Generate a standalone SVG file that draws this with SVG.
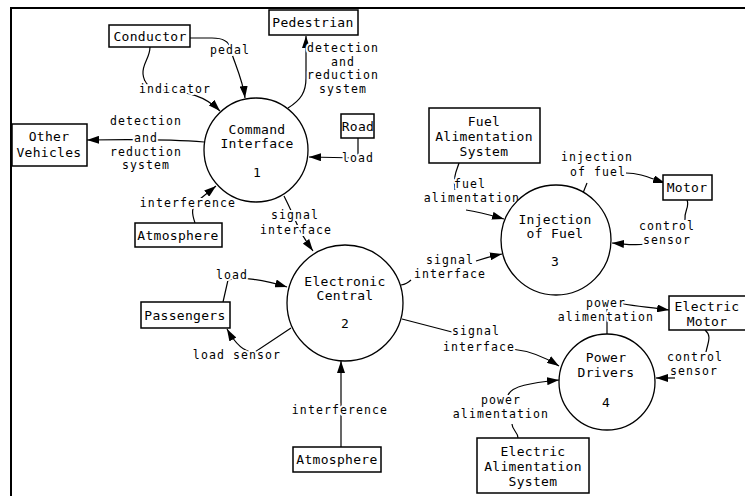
<svg xmlns="http://www.w3.org/2000/svg" width="745" height="496" viewBox="0 0 745 496">
<style>
text{font-family:"DejaVu Sans Mono","Liberation Mono",monospace;font-size:13px;fill:#000;text-anchor:middle;letter-spacing:0.3px}
.lbl{font-size:11.5px;letter-spacing:1.1px;paint-order:stroke;stroke:#fff;stroke-width:4px;stroke-linejoin:round}
.box{fill:#fff;stroke:#000;stroke-width:1.5}
.proc{fill:#fff;stroke:#000;stroke-width:1.3}
.c{fill:none;stroke:#000;stroke-width:1.2}
.a{marker-end:url(#ah)}
</style>
<defs>
<marker id="ah" viewBox="0 0 12 8" refX="12" refY="4" markerWidth="12" markerHeight="8" markerUnits="userSpaceOnUse" orient="auto">
<path d="M0,0 L12,4 L0,8 z" fill="#000"/>
</marker>
</defs>
<rect width="745" height="496" fill="#fff"/>
<path d="M11,496 V8 H745" fill="none" stroke="#000" stroke-width="2"/>

<g id="connectors">
<path class="c a" d="M190,38 L212,38 C224,38 229,42 230,48 C234,62 243,80 245,98"/>
<path class="c a" d="M150,47 C150,58 142,64 143,74 C144,84 150,88 160,90 C190,92 205,96 220,111"/>
<path class="c a" d="M288,108 C301,100 306,92 306,78 L306,36"/>
<path class="c a" d="M204,142 C180,140 150,139 87,140"/>
<path class="c a" d="M358,138 L358,158 L309,157"/>
<path class="c a" d="M195,223 C192,214 190,207 200,199 L216,186"/>
<path class="c a" d="M284,196 C288,204 292,212 296,222 C300,232 305,240 313,251"/>
<path class="c a" d="M223,302 L228,280 C240,276 265,280 287,287"/>
<path class="c a" d="M291,328 L255,352 C245,353 236,345 227,329"/>
<path class="c a" d="M341,447 L341,361"/>
<path class="c" d="M401,285 Q407,284 411,280"/>
<path class="c a" d="M476,261 C485,258 492,256 502,254"/>
<path class="c" d="M402,319 L452,332"/>
<path class="c a" d="M512,349 C530,351 545,357 559,366"/>
<path class="c" d="M459,163 C457,170 453,175 455,190"/>
<path class="c a" d="M466,210 C480,212 490,215 504,219"/>
<path class="c" d="M583,193 L587,183"/>
<path class="c a" d="M626,173 C640,173 650,178 665,183"/>
<path class="c" d="M687,200 C690,207 684,210 685,220"/>
<path class="c a" d="M645,244 C635,246 625,244 612,243"/>
<path class="c a" d="M607,334 L607,300 C620,305 640,306 669,310"/>
<path class="c" d="M705,330 C712,336 708,342 706,352"/>
<path class="c a" d="M675,378 L656,378"/>
<path class="c" d="M518,438 C518,432 512,430 512,424"/>
<path class="c a" d="M508,395 C512,386 530,383 559,380"/>
</g>

<g id="labels">
<text class="lbl" x="230" y="54">pedal</text>
<text class="lbl" x="175" y="93">indicator</text>
<text class="lbl" x="343" y="52">detection</text>
<text class="lbl" x="343" y="65.5">and</text>
<text class="lbl" x="343" y="79">reduction</text>
<text class="lbl" x="343" y="92.5">system</text>
<text class="lbl" x="146" y="125">detection</text>
<text class="lbl" x="146" y="142">and</text>
<text class="lbl" x="146" y="155.5">reduction</text>
<text class="lbl" x="146" y="169">system</text>
<text class="lbl" x="358" y="162">load</text>
<text class="lbl" x="188" y="207">interference</text>
<text class="lbl" x="295" y="219">signal</text>
<text class="lbl" x="296" y="234">interface</text>
<text class="lbl" x="470" y="188">fuel</text>
<text class="lbl" x="472" y="202">alimentation</text>
<text class="lbl" x="597" y="161">injection</text>
<text class="lbl" x="598" y="176">of fuel</text>
<text class="lbl" x="667" y="230">control</text>
<text class="lbl" x="667" y="244">sensor</text>
<text class="lbl" x="450" y="264">signal</text>
<text class="lbl" x="450" y="278">interface</text>
<text class="lbl" x="232" y="279">load</text>
<text class="lbl" x="237" y="359">load sensor</text>
<text class="lbl" x="340" y="414">interference</text>
<text class="lbl" x="476" y="335">signal</text>
<text class="lbl" x="479" y="351">interface</text>
<text class="lbl" x="606" y="307">power</text>
<text class="lbl" x="606" y="321">alimentation</text>
<text class="lbl" x="695" y="361">control</text>
<text class="lbl" x="694" y="375">sensor</text>
<text class="lbl" x="501" y="404">power</text>
<text class="lbl" x="501" y="418">alimentation</text>
</g>

<g id="conductor"><rect class="box" x="109" y="25" width="81" height="22"/><text x="150" y="41">Conductor</text></g>
<g id="pedestrian"><rect class="box" x="269" y="10" width="89" height="25"/><text x="313" y="27">Pedestrian</text></g>
<g id="road"><rect class="box" x="341" y="114" width="33" height="24"/><text x="358" y="131">Road</text></g>
<g id="other-vehicles"><rect class="box" x="12" y="124" width="75" height="42"/><text x="49" y="141">Other</text><text x="49" y="157">Vehicles</text></g>
<g id="atmosphere-1"><rect class="box" x="135" y="223" width="87" height="24"/><text x="178" y="240">Atmosphere</text></g>
<g id="fuel-alimentation"><rect class="box" x="429" y="108" width="111" height="55"/><text x="484" y="126">Fuel</text><text x="484" y="141">Alimentation</text><text x="484" y="156">System</text></g>
<g id="motor"><rect class="box" x="663" y="175" width="49" height="25"/><text x="687" y="192">Motor</text></g>
<g id="passengers"><rect class="box" x="141" y="302" width="89" height="26"/><text x="185" y="320">Passengers</text></g>
<g id="atmosphere-2"><rect class="box" x="293" y="447" width="88" height="25"/><text x="337" y="464">Atmosphere</text></g>
<g id="electric-motor"><rect class="box" x="669" y="296" width="82" height="34"/><text x="707" y="311">Electric</text><text x="707" y="326">Motor</text></g>
<g id="electric-alimentation"><rect class="box" x="477" y="438" width="112" height="55"/><text x="533" y="456">Electric</text><text x="533" y="471">Alimentation</text><text x="533" y="486">System</text></g>

<g id="command-interface"><circle class="proc" cx="256" cy="150" r="52"/><text x="257" y="134">Command</text><text x="257" y="148">Interface</text><text x="257" y="177">1</text></g>
<g id="electronic-central"><circle class="proc" cx="345" cy="303" r="58"/><text x="345" y="286">Electronic</text><text x="345" y="300">Central</text><text x="345" y="328">2</text></g>
<g id="injection-of-fuel"><circle class="proc" cx="556" cy="240" r="55"/><text x="555" y="224">Injection</text><text x="555" y="238">of Fuel</text><text x="555" y="266">3</text></g>
<g id="power-drivers"><circle class="proc" cx="607" cy="382" r="48"/><text x="606" y="362">Power</text><text x="606" y="377">Drivers</text><text x="606" y="407">4</text></g>
</svg>
